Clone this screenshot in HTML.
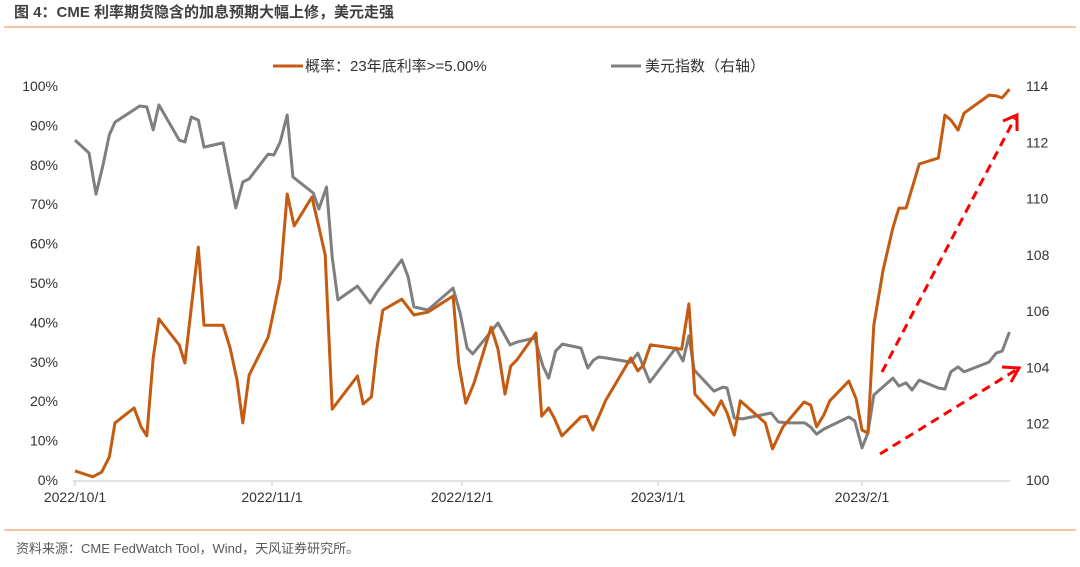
<!DOCTYPE html>
<html><head><meta charset="utf-8"><style>
body{margin:0;background:#fff;width:1080px;height:562px;overflow:hidden;font-family:"Liberation Sans","Noto Sans CJK SC",sans-serif}
</style></head><body>
<svg id="chart" width="1080" height="562" xmlns="http://www.w3.org/2000/svg" font-family="Liberation Sans, Noto Sans CJK SC, sans-serif">
<text x="14" y="17" font-size="15" font-weight="bold" fill="#404040">图 4：CME 利率期货隐含的加息预期大幅上修，美元走强</text>
<line x1="4" y1="27" x2="1076" y2="27" stroke="#f4b183" stroke-width="1.5"/>
<line x1="4" y1="530" x2="1076" y2="530" stroke="#f4b183" stroke-width="1.5"/>
<text x="16" y="553" font-size="13" fill="#595959">资料来源：CME FedWatch Tool，Wind，天风证券研究所。</text>
<g>
<line x1="273" y1="66" x2="303" y2="66" stroke="#c55a11" stroke-width="3"/>
<text x="305" y="71" font-size="15" fill="#333">概率：23年底利率&gt;=5.00%</text>
<line x1="611" y1="66" x2="641" y2="66" stroke="#7f7f7f" stroke-width="3"/>
<text x="645" y="71" font-size="15" fill="#333">美元指数（右轴）</text>
</g>
<g id="axes"></g>
<g id="series"></g>
<g stroke="#ff0000" stroke-width="3" fill="none" stroke-dasharray="9,6">
<line x1="882" y1="372" x2="1015" y2="118"/>
<line x1="880" y1="454" x2="1016" y2="370"/>
<polyline points="1003,121 1017,115 1017,131" stroke-dasharray="none"/>
<polyline points="1002,367 1019,368 1011,382" stroke-dasharray="none"/>
</g>
</svg>
<script>
const probDays=[0,2.8,4.2,5.4,6.3,9.3,10.4,11.3,12.3,13.2,16.4,17.3,19.4,20.3,23.3,24.4,25.5,26.4,27.4,30.4,31.3,32.3,33.4,34.5,37.3,38.4,39.4,40.5,44.5,45.4,46.7,47.6,48.5,51.5,53.4,55.6,59.6,60.5,61.6,62.9,65.6,66.7,67.8,68.7,69.7,72.7,73.6,74.7,75.6,76.8,79.8,80.7,81.7,82.6,83.7,87.7,88.8,89.7,90.8,95.6,96.7,97.6,100.5,101.6,102.5,103.6,104.5,108.3,109.4,111,114.2,115.2,116.1,117.2,118.1,121,122.1,123,123.9,124.8,126.2,127.7,128.6,129.7,131.7,134.6,135.6,136.5,137.6,138.5,142.3,143.4,144.3,145.4];
const probVals=[2.3,0.8,2.0,5.8,14.5,18.3,13.5,11.2,31.0,40.9,34.3,29.7,59.1,39.3,39.3,33.5,25.4,14.5,26.6,36.3,43.1,51.0,72.6,64.5,71.8,64.2,57.1,18.0,26.4,19.3,21.1,33.8,43.1,45.9,41.9,42.6,46.7,29.4,19.5,24.6,38.8,33.2,21.8,28.9,30.5,37.3,16.2,18.3,15.7,11.2,16.0,16.2,12.7,16.0,20.1,31.0,27.7,29.2,34.3,33.2,44.7,21.8,16.5,20.1,17.0,11.4,20.1,14.5,7.9,13.5,19.8,19.0,13.5,16.5,20.1,25.1,20.6,12.7,11.9,39.3,53.3,64.0,69.0,69.0,80.2,81.7,92.6,91.4,88.8,93.1,97.7,97.5,97.0,99.2];
const dxyDays=[0,2.2,3.3,4.4,5.4,6.3,10.2,11.3,12.3,13.2,16.4,17.3,18.3,19.4,20.3,23.3,25.3,26.4,27.4,30.4,31.3,32.3,33.4,34.3,37.5,38.4,39.6,40.5,41.4,44.5,46.5,47.6,51.5,52.5,53.4,55.6,59.6,60.7,61.8,62.7,66.7,68.6,69.7,72.5,73.8,74.7,75.8,76.9,79.8,80.9,81.8,82.6,83.7,87.7,88.8,90.7,94.7,95.8,96.7,97.5,100.5,101.9,102.5,103.6,104.8,109.2,110.3,111.9,114.3,115.2,116.1,117.2,121,121.9,123,123.9,124.8,127.7,128.6,129.7,130.6,131.7,134.6,135.6,136.5,137.6,138.5,142.3,143.4,144.3,145.4];
const dxyVals=[112.08,111.62,110.16,111.19,112.26,112.72,113.29,113.26,112.44,113.33,112.08,112.01,112.9,112.79,111.83,111.98,109.67,110.59,110.7,111.58,111.55,112.01,112.97,110.77,110.2,109.63,110.41,107.92,106.4,106.89,106.29,106.68,107.82,107.21,106.15,106.04,106.82,105.93,104.69,104.48,105.58,104.8,104.9,105.05,104.05,103.62,104.58,104.83,104.69,103.98,104.26,104.37,104.34,104.19,104.51,103.48,104.69,104.23,105.12,103.91,103.16,103.3,103.27,102.2,102.17,102.38,102.06,102.03,102.03,101.88,101.63,101.81,102.24,102.1,101.14,101.67,103.02,103.62,103.34,103.45,103.2,103.55,103.27,103.23,103.84,104.02,103.84,104.19,104.51,104.58,105.26];
const xTickDays=[0,31,61,92,123];
const xTickLabels=["2022/10/1","2022/11/1","2022/12/1","2023/1/1","2023/2/1"];
const leftTicks=[0,10,20,30,40,50,60,70,80,90,100];
const rightTicks=[100,102,104,106,108,110,112,114];
const NS="http://www.w3.org/2000/svg";
const tickPx=[75,272,462,658,862];
function xScale(d){
  for(let i=0;i<xTickDays.length-1;i++){
    if(d<=xTickDays[i+1]||i===xTickDays.length-2){
      const a=xTickDays[i],b=xTickDays[i+1];
      return tickPx[i]+(d-a)*(tickPx[i+1]-tickPx[i])/(b-a);
    }
  }
}
function yLeft(v){return 480-v*3.94;}
function yRight(v){return 480-(v-100)*28.14;}
function mk(tag,attrs,parent){const e=document.createElementNS(NS,tag);for(const k in attrs)e.setAttribute(k,attrs[k]);parent.appendChild(e);return e;}
const axes=document.getElementById('axes');
const ax=mk('line',{x1:73,y1:481,x2:1010,y2:481,stroke:'#d9d9d9','stroke-width':1.5},axes);


xTickDays.forEach((d,i)=>{
  const x=xScale(d);
  const t=mk('line',{x1:x,y1:481,x2:x,y2:486,stroke:'#d9d9d9','stroke-width':1.5},axes);
  
  
  const l=mk('text',{x:x,y:502,'font-size':14,fill:'#333','text-anchor':'middle'},axes);
  
  
  l.textContent=xTickLabels[i];
});
leftTicks.forEach(v=>{
  const l=mk('text',{x:58,y:yLeft(v)+5,'font-size':14,fill:'#333','text-anchor':'end'},axes);
  
  
  l.textContent=v+'%';
});
rightTicks.forEach(v=>{
  const l=mk('text',{x:1026,y:yRight(v)+5,'font-size':14,fill:'#333'},axes);
  
  
  l.textContent=v;
});
const series=document.getElementById('series');
const pd=dxyDays.map((d,i)=>xScale(d).toFixed(1)+','+yRight(dxyVals[i]).toFixed(1)).join(' ');
const g=mk('polyline',{points:pd,fill:'none',stroke:'#7f7f7f','stroke-width':3,'stroke-linejoin':'round'},series);


const pp=probDays.map((d,i)=>xScale(d).toFixed(1)+','+yLeft(probVals[i]).toFixed(1)).join(' ');
const o=mk('polyline',{points:pp,fill:'none',stroke:'#c55a11','stroke-width':3,'stroke-linejoin':'round'},series);


</script>
</body></html>
